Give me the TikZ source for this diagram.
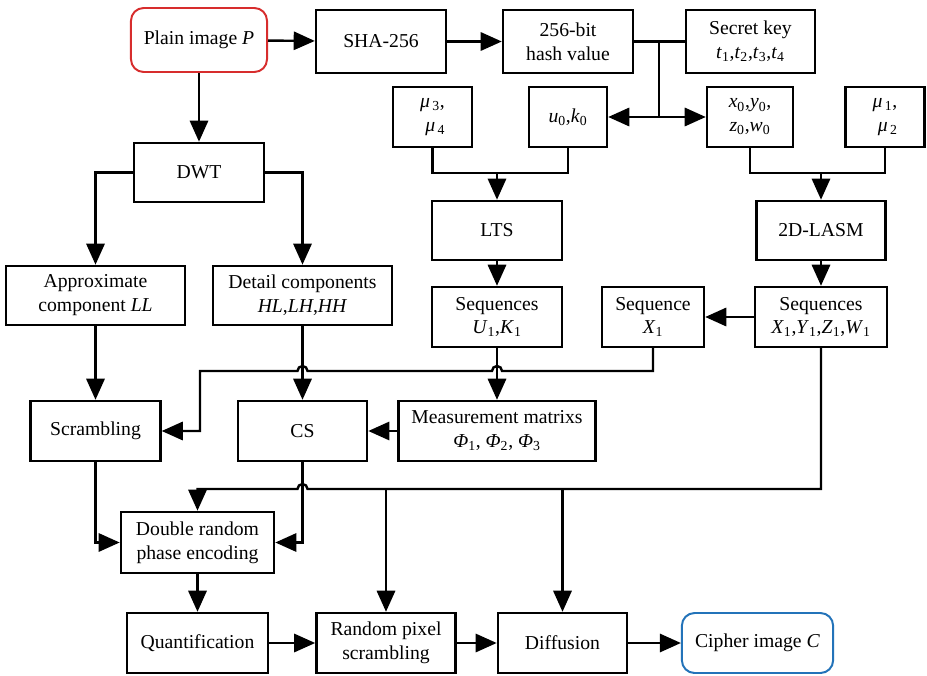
\documentclass[tikz,border=0pt]{standalone}
\usepackage{fontspec}
\setmainfont{Liberation Serif}
\usepackage{xcolor}
\usepackage{tikz}
\usetikzlibrary{arrows.meta,positioning,calc}
\definecolor{plainred}{RGB}{215,45,45}
\definecolor{cipherblue}{RGB}{35,115,185}
\newcommand{\iv}[2]{\textit{#1}\textsubscript{#2}}

\begin{document}
\begin{tikzpicture}[
    x=0.025cm, y=-0.025cm,
    >={Triangle[length=15pt,width=13pt]},
    block/.style={draw, rectangle, line width=1.7pt, align=center, inner sep=1pt, font=\fontsize{14}{17}\selectfont, fill=white},
    rblock/.style={block, line width=1.4pt, rounded corners=9pt},
    arrow/.style={->, line width=1.7pt},
    link/.style={line width=1.7pt}
]
\useasboundingbox (0,0) rectangle (927,676);

\node[rblock, draw=plainred, minimum width=3.4cm, minimum height=1.6cm] (plain) at (199,40) {Plain image \textit{P}};
\node[block, minimum width=3.25cm, minimum height=1.58cm] (sha) at (381,41.5) {SHA-256};
\node[block, minimum width=3.25cm, minimum height=1.58cm] (hash) at (568,41.5) {256-bit\\hash value};
\node[block, minimum width=3.23cm, minimum height=1.58cm] (key) at (750.5,41.5) {Secret key\\\iv{t}{1},\iv{t}{2},\iv{t}{3},\iv{t}{4}};

\node[block, minimum width=1.98cm, minimum height=1.5cm] (mu34) at (432.5,117) {\textit{μ}\textsubscript{\,3},\\\;\textit{μ}\textsubscript{\,4}};
\node[block, minimum width=1.95cm, minimum height=1.5cm] (u0k0) at (568,117) {\iv{u}{0},\iv{k}{0}};
\node[block, minimum width=2.15cm, minimum height=1.5cm] (x0) at (750,117) {\iv{x}{0},\iv{y}{0},\\\iv{z}{0},\iv{w}{0}};
\node[block, minimum width=1.98cm, minimum height=1.5cm] (mu12) at (885,117) {\textit{μ}\textsubscript{\,1},\\\;\textit{μ}\textsubscript{\,2}};

\node[block, minimum width=3.25cm, minimum height=1.48cm] (dwt) at (199,172.5) {DWT};
\node[block, minimum width=4.48cm, minimum height=1.48cm] (approx) at (95.5,295.5) {Approximate\\component \textit{LL}};
\node[block, minimum width=4.48cm, minimum height=1.48cm] (detail) at (302.5,295.5) {Detail components\\\textit{HL},\textit{LH},\textit{HH}};

\node[block, minimum width=3.25cm, minimum height=1.48cm] (lts) at (497,230.5) {LTS};
\node[block, minimum width=3.23cm, minimum height=1.48cm] (lasm) at (821,230.5) {2D-LASM};
\node[block, minimum width=3.25cm, minimum height=1.5cm] (sequk) at (497,317) {Sequences\\\iv{U}{1},\iv{K}{1}};
\node[block, minimum width=2.55cm, minimum height=1.5cm] (seqx) at (653,317) {Sequence\\\iv{X}{1}};
\node[block, minimum width=3.3cm, minimum height=1.5cm] (seqxyzw) at (821,317) {Sequences\\\iv{X}{1},\iv{Y}{1},\iv{Z}{1},\iv{W}{1}};

\node[block, minimum width=3.25cm, minimum height=1.5cm] (scr) at (95.5,431) {Scrambling};
\node[block, minimum width=3.23cm, minimum height=1.5cm] (cs) at (302.5,431) {CS};
\node[block, minimum width=4.93cm, minimum height=1.5cm] (meas) at (497,431) {Measurement matrixs\\\iv{Φ}{1}, \iv{Φ}{2}, \iv{Φ}{3}};

\node[block, minimum width=3.83cm, minimum height=1.53cm] (drpe) at (197.5,542.5) {Double random\\phase encoding};
\node[block, minimum width=3.53cm, minimum height=1.5cm] (quant) at (197.5,643) {Quantification};
\node[block, minimum width=3.48cm, minimum height=1.5cm] (rand) at (386,643) {Random pixel\\scrambling};
\node[block, minimum width=3.23cm, minimum height=1.5cm] (diff) at (562.5,643) {Diffusion};
\node[rblock, draw=cipherblue, minimum width=3.78cm, minimum height=1.5cm] (cipher) at (757.5,643) {Cipher image \textit{C}};

\coordinate (jn) at (659,41.5);

\draw[arrow] (plain) -- (sha);
\draw[arrow] (sha) -- (hash);
\draw[link] (hash) -- (key);
\draw[link] (jn) -- (jn |- u0k0.east);
\draw[arrow, <->] (u0k0.east) -- (x0.west);

\draw[link] (mu34.south) -- (mu34.south |- 0,173) -- (u0k0.south |- 0,173) -- (u0k0.south);
\draw[arrow] (lts.north |- 0,173) -- (lts.north);
\draw[link] (x0.south) -- (x0.south |- 0,173) -- (mu12.south |- 0,173) -- (mu12.south);
\draw[arrow] (lasm.north |- 0,173) -- (lasm.north);
\draw[arrow] (lts) -- (sequk);
\draw[arrow] (lasm) -- (seqxyzw);
\draw[arrow] (seqxyzw) -- (seqx);

\draw[arrow] (plain) -- (dwt);
\draw[arrow] (dwt.west) -| (approx.north);
\draw[arrow] (dwt.east) -| (detail.north);
\draw[arrow] (approx) -- (scr);
\draw[arrow] (detail) -- (cs);
\draw[arrow] (sequk) -- (meas);
\draw[arrow] (meas) -- (cs);

\draw[arrow] (seqx.south) -- (seqx.south |- 0,371) -- (502,371) arc[start angle=0, end angle=180, radius=0.125cm] -- (307.5,371) arc[start angle=0, end angle=180, radius=0.125cm] -- (200,371) |- (scr.east);

\draw[arrow] (seqxyzw.south) -- (seqxyzw.south |- 0,489) -- (307.5,489) arc[start angle=0, end angle=180, radius=0.125cm] -- (drpe.north |- 0,489) -- (drpe.north);
\draw[arrow] (rand.north |- 0,489) -- (rand.north);
\draw[arrow] (diff.north |- 0,489) -- (diff.north);

\draw[arrow] (scr.south) |- (drpe.west);
\draw[arrow] (cs.south) |- (drpe.east);
\draw[arrow] (drpe) -- (quant);
\draw[arrow] (quant) -- (rand);
\draw[arrow] (rand) -- (diff);
\draw[arrow] (diff) -- (cipher);
\end{tikzpicture}
\end{document}
